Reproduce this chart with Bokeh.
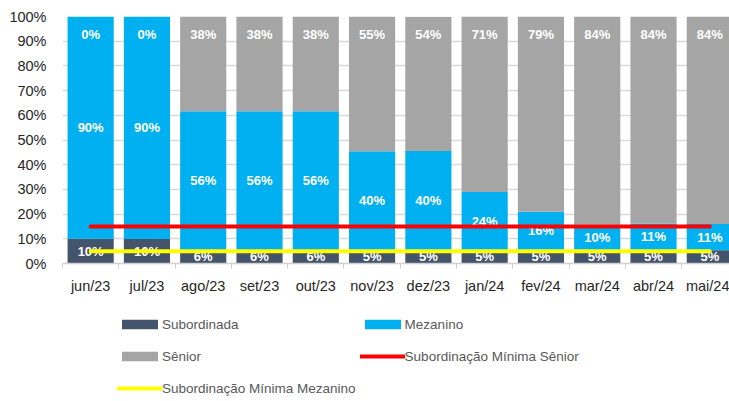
import numpy as np
from bokeh.plotting import figure
from bokeh.layouts import column
from bokeh.models import (ColumnDataSource, Range1d, FixedTicker, Legend, LegendItem,
                          PrintfTickFormatter)
from bokeh.core.properties import value
from bokeh.embed import file_html
from bokeh.resources import INLINE

months = ["jun/23", "jul/23", "ago/23", "set/23", "out/23", "nov/23",
          "dez/23", "jan/24", "fev/24", "mar/24", "abr/24", "mai/24"]
subordinada = [10.0, 9.9, 5.8, 5.8, 5.8, 5.4, 5.4, 5.3, 5.4, 5.4, 5.4, 5.4]
mezanino = [90.0, 90.1, 55.8, 55.8, 55.8, 40.0, 40.1, 23.6, 15.6, 10.4, 10.8, 10.6]
senior = [0.0, 0.0, 38.4, 38.4, 38.4, 54.6, 54.4, 71.1, 79.0, 84.2, 83.8, 84.0]
min_senior = [15, 15, 15, 15, 15, 15, 15, 15, 15, 15, 15, 15]
min_mezanino = [5, 5, 5, 5, 5, 5, 5, 5, 5, 5, 5, 5]
series_names = ["Subordinada", "Mezanino", "Sênior",
                "Subordinação Mínima Sênior", "Subordinação Mínima Mezanino"]

C_SUB = "#44546A"
C_MEZ = "#00B0F0"
C_SEN = "#A5A5A5"
C_RED = "#FF0000"
C_YEL = "#FFFF00"
FONT = "Liberation Sans"

xs = [i + 0.5 for i in range(len(months))]
src = ColumnDataSource(dict(
    x=xs,
    sub=subordinada, mez=mezanino, sen=senior,
    min_sen=min_senior, min_mez=min_mezanino,
    sub_y=[s / 2 for s in subordinada],
    mez_y=[s + m / 2 for s, m in zip(subordinada, mezanino)],
    sen_y=[s + m + n for s, m, n in zip(subordinada, mezanino, senior)],
    sub_t=[f"{round(v)}%" for v in subordinada],
    mez_t=[f"{round(v)}%" for v in mezanino],
    sen_t=[f"{round(v)}%" for v in senior],
))

p = figure(width=729, height=300, x_range=Range1d(0, 11.85), y_range=Range1d(0, 100),
           output_backend="svg", toolbar_location=None,
           min_border_left=62, min_border_right=0, min_border_top=16, min_border_bottom=37)
p.outline_line_color = None
p.background_fill_color = "white"

bars = p.vbar_stack(["sub", "mez", "sen"], x="x", width=0.82, source=src,
                    fill_color=[C_SUB, C_MEZ, C_SEN], line_color=None)

common = dict(source=src, text_color="white", text_font=value(FONT), text_font_style="bold",
              text_font_size="13px", text_align="center", text_baseline="middle")
p.text(x="x", y="sub_y", text="sub_t", **common)
p.text(x="x", y="mez_y", text="mez_t", **common)
p.text(x="x", y="sen_y", text="sen_t", y_offset=18, **common)

r_red = p.line(x="x", y="min_sen", source=src, line_color=C_RED, line_width=4, line_cap="round")
r_yel = p.line(x="x", y="min_mez", source=src, line_color=C_YEL, line_width=4, line_cap="round")

# axes
p.yaxis.ticker = FixedTicker(ticks=list(range(0, 101, 10)))
p.yaxis.formatter = PrintfTickFormatter(format="%d%%")
p.yaxis.axis_line_color = None
p.yaxis.major_tick_line_color = None
p.yaxis.minor_tick_line_color = None
p.yaxis.major_tick_out = 0
p.yaxis.major_label_standoff = 16
p.yaxis.major_label_text_font = FONT
p.yaxis.major_label_text_font_size = "14.5px"
p.yaxis.major_label_text_color = "#262626"

p.xaxis.ticker = FixedTicker(ticks=xs, minor_ticks=list(range(len(months) + 1)))
p.xaxis.major_label_overrides = {x: m for x, m in zip(xs, months)}
p.xaxis.axis_line_color = "#D0D0D0"
p.xaxis.axis_line_width = 1.5
p.xaxis.major_tick_line_color = None
p.xaxis.major_tick_out = 0
p.xaxis.major_tick_in = 0
p.xaxis.minor_tick_line_color = "#D0D0D0"
p.xaxis.minor_tick_out = 5
p.xaxis.minor_tick_in = 0
p.xaxis.major_label_standoff = 9
p.xaxis.major_label_text_font = FONT
p.xaxis.major_label_text_font_size = "14.5px"
p.xaxis.major_label_text_color = "#262626"

p.xgrid.grid_line_color = None
p.ygrid.grid_line_color = "#D9D9D9"
p.ygrid.grid_line_width = 1.5

# legend panel (separate figure under the chart, proxies with the same series styles)
pl = figure(width=729, height=101, x_range=Range1d(0, 1), y_range=Range1d(0, 1),
            x_axis_type=None, y_axis_type=None, output_backend="svg", toolbar_location=None,
            min_border=0)
pl.outline_line_color = None
pl.grid.visible = False
nan = [np.nan]
lg_sub = pl.vbar(x=nan, top=nan, width=0.5, fill_color=C_SUB, line_color=None)
lg_mez = pl.vbar(x=nan, top=nan, width=0.5, fill_color=C_MEZ, line_color=None)
lg_sen = pl.vbar(x=nan, top=nan, width=0.5, fill_color=C_SEN, line_color=None)
lg_red = pl.line(x=nan, y=nan, line_color=C_RED, line_width=4, line_cap="round")
lg_yel = pl.line(x=nan, y=nan, line_color=C_YEL, line_width=4, line_cap="round")
proxies = dict(zip(series_names, [lg_sub, lg_mez, lg_sen, lg_red, lg_yel]))
# column-major fill: left column then right column
order = [series_names[i] for i in (0, 2, 4, 1, 3)]

legend = Legend(items=[LegendItem(label=n, renderers=[proxies[n]]) for n in order],
                location=(55, -1), ncols=2, glyph_width=45, glyph_height=12, label_height=28,
                label_standoff=0, spacing=4, padding=0, margin=0,
                border_line_color=None, background_fill_alpha=0,
                label_text_font=FONT, label_text_font_size="13.5px", label_text_color="#595959")
pl.add_layout(legend)

layout = column(p, pl, spacing=0)
open("out.html", "w").write(file_html(layout, INLINE))
